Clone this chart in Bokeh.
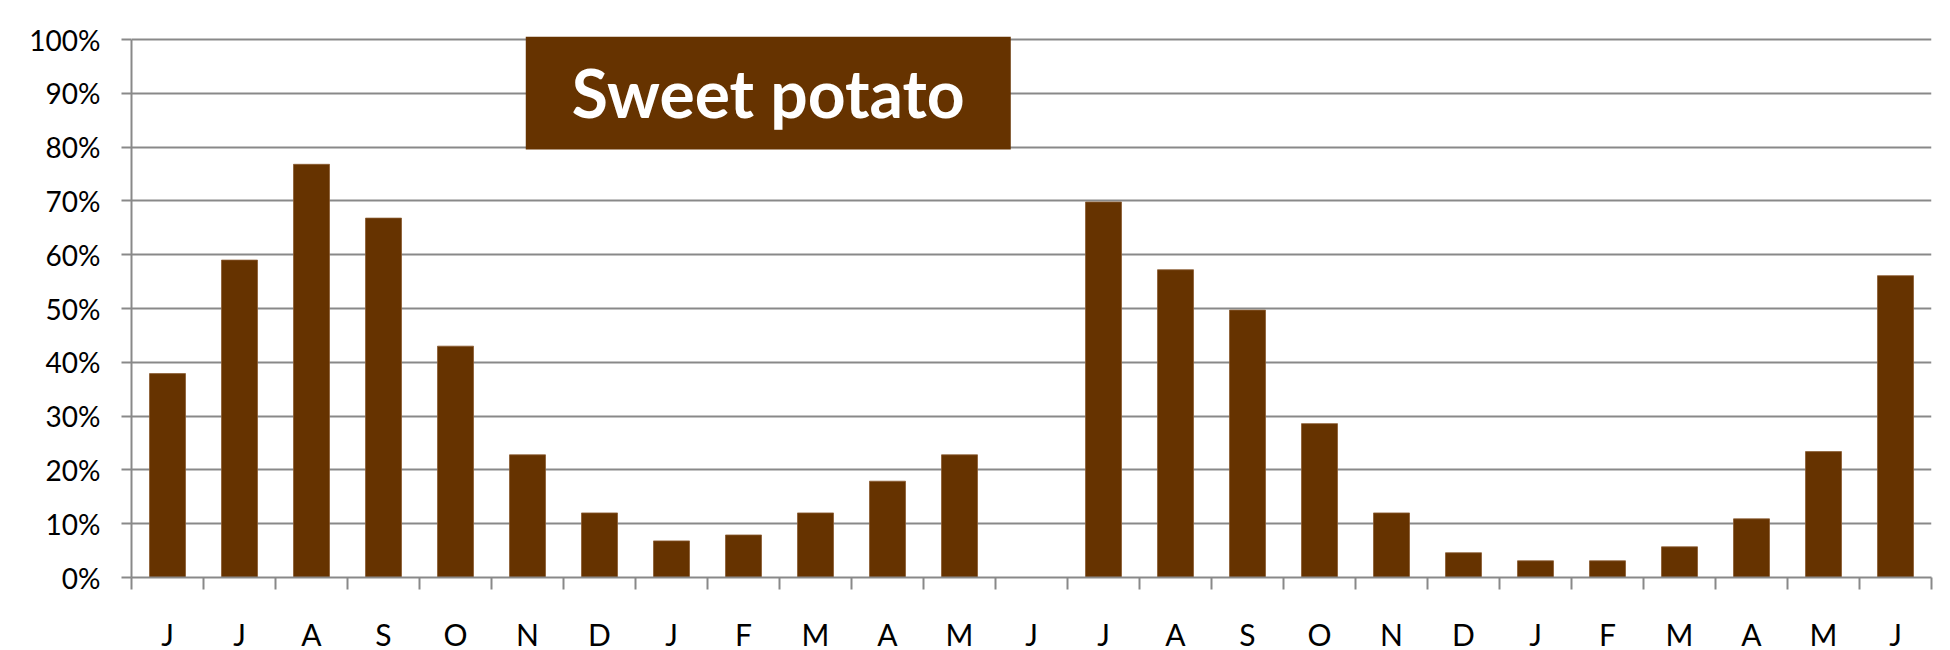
from bokeh.plotting import figure
from bokeh.models import Range1d, FixedTicker, NumeralTickFormatter, Label
from bokeh.embed import file_html
from bokeh.resources import INLINE

# Monthly share (%) for sweet potato, two seasons June -> June
months = ["J", "J", "A", "S", "O", "N", "D", "J", "F", "M", "A", "M", "J",
          "J", "A", "S", "O", "N", "D", "J", "F", "M", "A", "M", "J"]
share_pct = [37.9, 59.0, 76.8, 66.8, 43.0, 22.8, 12.0, 6.8, 7.9, 12.0, 17.9, 22.8, 0.0,
             69.8, 57.2, 49.7, 28.6, 12.0, 4.6, 3.1, 3.1, 5.7, 10.9, 23.4, 56.1]
y_ticks = [0.0, 0.1, 0.2, 0.3, 0.4, 0.5, 0.6, 0.7, 0.8, 0.9, 1.0]
title_text = "Sweet potato"

BROWN = "#663300"
GRID = "#898989"
FONT = "Lato"

n = len(months)
xs = list(range(1, n + 1))
fractions = [v / 100.0 for v in share_pct]

p = figure(frame_width=1800, frame_height=541, output_backend="svg", toolbar_location=None,
           x_range=Range1d(0.5, n + 0.5), y_range=Range1d(0, 1.0056),
           min_border_left=131, min_border_right=19, min_border_top=36,
           min_border_bottom=70)
p.outline_line_color = None
p.background_fill_color = "white"
p.border_fill_color = "white"

p.vbar(x=xs, top=fractions, width=0.5, bottom=0, fill_color=BROWN,
       line_color="#8a5a30", line_width=0.8)

# x axis: month letters under each bar, tick marks between categories
xa = p.xaxis[0]
xa.ticker = FixedTicker(ticks=xs, minor_ticks=[i + 0.5 for i in range(0, n + 1)])
xa.major_label_overrides = {x: m for x, m in zip(xs, months)}
xa.major_tick_out = 0
xa.major_tick_in = 0
xa.minor_tick_out = 12
xa.minor_tick_in = 0
xa.minor_tick_line_color = GRID
xa.minor_tick_line_width = 2
xa.axis_line_color = GRID
xa.axis_line_width = 2
xa.major_label_text_font = FONT
xa.major_label_text_font_size = "30px"
xa.major_label_text_color = "black"
xa.major_label_standoff = 26

# y axis: percentages
ya = p.yaxis[0]
ya.ticker = FixedTicker(ticks=y_ticks)
ya.formatter = NumeralTickFormatter(format="0%")
ya.bounds = (0, 1)
ya.major_tick_out = 10
ya.major_tick_in = 0
ya.minor_tick_out = 0
ya.minor_tick_in = 0
ya.major_tick_line_color = GRID
ya.major_tick_line_width = 2
ya.axis_line_color = GRID
ya.axis_line_width = 2
ya.major_label_text_font = FONT
ya.major_label_text_font_size = "28px"
ya.major_label_text_color = "black"
ya.major_label_standoff = 21

p.xgrid.grid_line_color = None
p.ygrid.ticker = FixedTicker(ticks=y_ticks)
p.ygrid.grid_line_color = GRID
p.ygrid.grid_line_width = 2

# title badge
p.quad(left=5.976, right=12.712, bottom=0.7955, top=1.0056,
       fill_color=BROWN, line_color=None)
p.add_layout(Label(x=9.344, y=0.9006, text=title_text, text_align="center",
                   text_baseline="middle", text_font=FONT, text_font_style="bold",
                   text_font_size="66px", text_color="white"))

open("out.html", "w").write(file_html(p, INLINE))
